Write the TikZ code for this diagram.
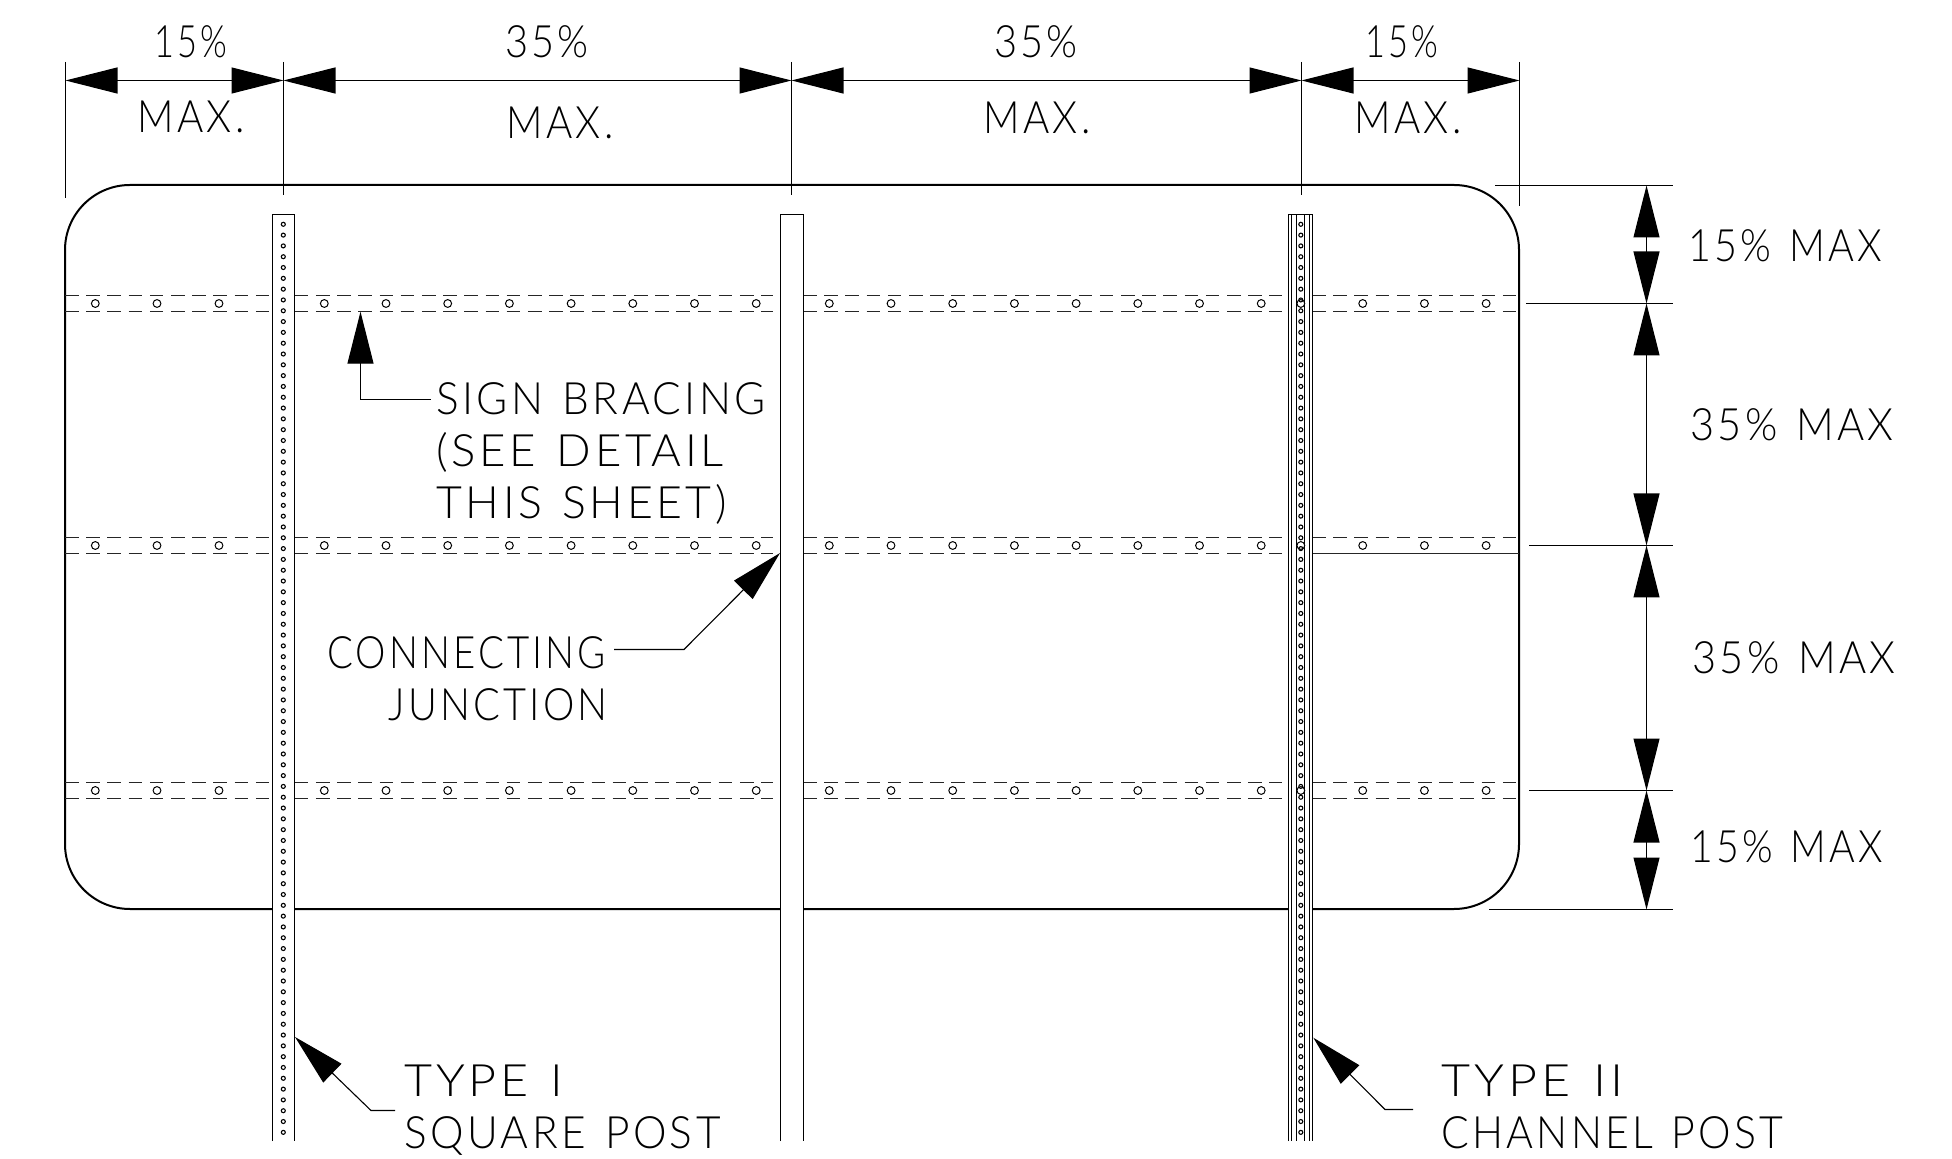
\documentclass[tikz,border=0pt]{standalone}
\usepackage{graphicx}
\usepackage{fontspec}
\setmainfont{Lato}[UprightFont={* Light},LetterSpace=8,WordSpace=1.3]
\usetikzlibrary{arrows.meta}
\newcommand{\sx}[2]{\scalebox{#1}[1]{#2}}
\tikzset{
  x=0.5pt,y=-0.5pt,
  thin line/.style={line width=0.55pt,black},
  border/.style={line width=1pt,black},
  ext/.style={thin line},
  dim/.style={thin line,{Triangle[length=26pt,width=13pt]}-{Triangle[length=26pt,width=13pt]}},
  leader/.style={thin line,{Triangle[length=26pt,width=13pt]}-},
  brace/.style={line width=0.6pt,black!85,dash pattern=on 6.8pt off 3.8pt},
  bracesolid/.style={line width=0.6pt,black!85},
  post/.style={line width=0.5pt,black,fill=white},
  lbl/.style={inner sep=0pt,text height=16pt,text depth=0pt,font=\fontsize{22.3}{24}\selectfont,anchor=west},
  clbl/.style={lbl,anchor=center},
}
\begin{document}
\begin{tikzpicture}
\useasboundingbox (0,0) rectangle (1952,1159);
% sign
\draw[border,rounded corners=32.5pt] (65,185) rectangle (1519,909);
% bracing
\foreach \yy in {303.5,545.5,790.5}{
  \foreach \xa/\xb in {65/269,294.7/772.7,803/1282,1312/1516}{
    \draw[brace] (\xa,\yy-8) -- (\xb,\yy-8);
    \ifdim\yy pt=545.5pt
      \ifdim\xa pt=1312pt
        \draw[bracesolid] (\xa,\yy+8) -- (1519,\yy+8);
      \else
        \draw[brace] (\xa,\yy+8) -- (\xb,\yy+8);
      \fi
    \else
      \draw[brace] (\xa,\yy+8) -- (\xb,\yy+8);
    \fi
  }
  \foreach \cx in {95.3,157,219,324.3,386,447.7,509.4,571.1,632.8,694.5,756.2,829.3,891,952.7,1014.4,1076.1,1137.8,1199.5,1261.2,1362.7,1424.4,1486.1}{
    \draw[line width=0.5pt] (\cx,\yy) circle[radius=3.9];
  }
}
% posts
\draw[post] (272.5,1141) -- (272.5,214.5) -- (294.5,214.5) -- (294.5,1141);
\draw[post] (780.5,1141) -- (780.5,214.5) -- (803.5,214.5) -- (803.5,1141);
\fill[white] (1289,214) rectangle (1312.5,1141);
\draw[post] (1288.5,1141) -- (1288.5,214.5) -- (1312.5,214.5) -- (1312.5,1141);
\foreach \xx in {1291,1296.7,1304.6,1309.4}{\draw[line width=0.5pt] (\xx,214.5) -- (\xx,1141);}
\foreach \k in {0,...,84}{
  \draw[line width=0.55pt] (283.3,224.3+10.81*\k) circle[radius=2];
  \draw[line width=0.55pt] (1300.8,224.3+10.81*\k) circle[radius=2];
}
\foreach \yy in {303.5,545.5,790.5}{\draw[line width=0.5pt] (1300.8,\yy) circle[radius=3.9];}
% extension lines
\coordinate (tA) at (65.5,80.5); \coordinate (tB) at (283.5,80.5); \coordinate (tC) at (791.5,80.5);
\coordinate (tD) at (1301.5,80.5); \coordinate (tE) at (1519.5,80.5);
\coordinate (rA) at (1646.5,185.5); \coordinate (rB) at (1646.5,303.5); \coordinate (rC) at (1646.5,545.5);
\coordinate (rD) at (1646.5,790.5); \coordinate (rE) at (1646.5,909.5);
\draw[ext] (65.5,62) -- (65.5,198); \draw[ext] (283.5,62) -- (283.5,195);
\draw[ext] (791.5,62) -- (791.5,195); \draw[ext] (1301.5,62) -- (1301.5,195);
\draw[ext] (1519.5,62) -- (1519.5,206);
\draw[ext] (1495,185.5) -- (1673,185.5); \draw[ext] (1526,303.5) -- (1673,303.5);
\draw[ext] (1529,545.5) -- (1673,545.5); \draw[ext] (1529,790.5) -- (1673,790.5);
\draw[ext] (1489,909.5) -- (1673,909.5);
% dimensions
\draw[dim] (tA) -- (tB); \draw[dim] (tB) -- (tC); \draw[dim] (tC) -- (tD); \draw[dim] (tD) -- (tE);
\draw[dim] (rA) -- (rB); \draw[dim] (rB) -- (rC); \draw[dim] (rC) -- (rD); \draw[dim] (rD) -- (rE);
% leaders
\coordinate (braceTip) at (360.5,311.7); \coordinate (braceEl) at (360.5,399.5); \coordinate (braceEnd) at (430.7,399.5);
\draw[leader] (braceTip) -- (braceEl) -- (braceEnd);
\coordinate (connTip) at (780,553); \coordinate (connEl) at (684,649.5); \coordinate (connEnd) at (614,649.5);
\draw[leader] (connTip) -- (connEl) -- (connEnd);
\coordinate (t1Tip) at (295,1037); \coordinate (t1El) at (371,1110.5); \coordinate (t1End) at (395,1110.5);
\draw[leader] (t1Tip) -- (t1El) -- (t1End);
\coordinate (t2Tip) at (1313.3,1037.7); \coordinate (t2El) at (1385,1109.5); \coordinate (t2End) at (1413,1109.5);
\draw[leader] (t2Tip) -- (t2El) -- (t2End);
% labels
\node[clbl] (a1) at (191,42) {\sx{.77}{15\%}};
\node[clbl] (a2) at (191,117) {\sx{.9}{MAX.}};
\node[clbl] (b1) at (547,42) {\sx{.89}{35\%}};
\node[clbl] (b2) at (560,123) {\sx{.9}{MAX.}};
\node[clbl] (c1) at (1036,42) {\sx{.89}{35\%}};
\node[clbl] (c2) at (1037,118) {\sx{.9}{MAX.}};
\node[clbl] (d1) at (1402,42) {\sx{.77}{15\%}};
\node[clbl] (d2) at (1408,118) {\sx{.9}{MAX.}};
\node[lbl] (r1) at (1688,246) {\sx{.885}{15\% MAX}};
\node[lbl] (r2) at (1690,425) {\sx{.93}{35\% MAX}};
\node[lbl] (r3) at (1692,657) {\sx{.93}{35\% MAX}};
\node[lbl] (r4) at (1690,846) {\sx{.88}{15\% MAX}};
\node[lbl] (s1) at (436,399) {\sx{.95}{SIGN BRACING}};
\node[lbl] (s2) at (436,451) {\sx{1.02}{(SEE DETAIL}};
\node[lbl] (s3) at (436,503) {THIS SHEET)};
\node[lbl,anchor=east] (j1) at (606,652) {\sx{.86}{CONNECTING}};
\node[lbl,anchor=east] (j2) at (608,704) {\sx{.89}{JUNCTION}};
\node[lbl] (p1) at (404,1080) {\sx{1.085}{TYPE I}};
\node[lbl] (p2) at (404,1132) {\sx{.95}{SQUARE POST}};
\node[lbl] (q1) at (1441,1080) {\sx{1.125}{TYPE II}};
\node[lbl] (q2) at (1441,1132) {\sx{.92}{CHANNEL POST}};
\end{tikzpicture}
\end{document}
